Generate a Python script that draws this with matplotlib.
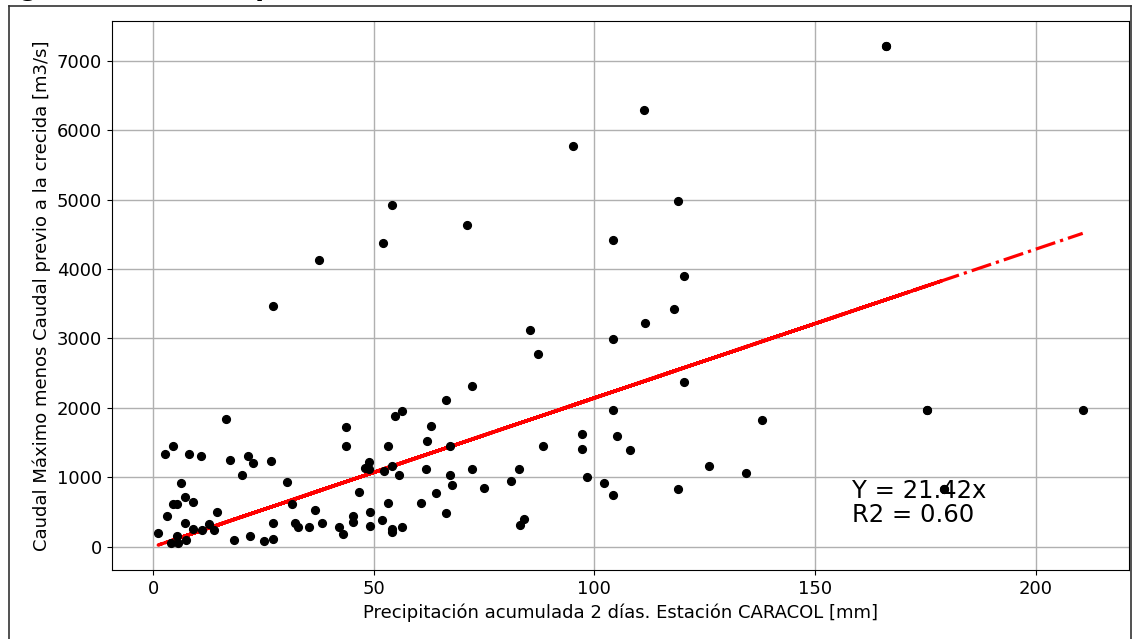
import numpy as np
import matplotlib
matplotlib.use('Agg')
from matplotlib import pyplot as plt
from matplotlib.lines import Line2D

# precipitacion acumulada 2 dias [mm] vs incremento de caudal [m3/s]
precip = [54.0, 37.5, 52.1, 71.2, 27.2, 111.2, 95.1, 118.9, 104.1, 120.2, 118.0,
          85.3, 87.3, 111.5, 104.1, 120.3, 104.1, 138.1, 97.1, 105.1, 88.3, 97.1, 108.0,
          82.8, 126.0, 134.4, 81.2, 98.3, 102.2, 75.0, 118.9, 104.1, 84.0, 83.1,
          72.2, 66.3, 16.4, 56.3, 54.7, 43.7, 63.0, 43.7, 53.1, 62.1, 67.2, 4.35,
          2.7, 8.1, 10.8, 21.5, 17.3, 22.7, 26.6, 20.1, 48.8, 48.1, 48.9, 52.2,
          54.1, 55.6, 61.9, 67.2, 72.2, 67.7, 64.0, 60.6, 66.3, 46.6, 30.2, 31.4,
          36.6, 32.1, 32.8, 35.3, 38.3, 42.0, 43.1, 45.3, 45.3, 49.2, 49.2, 51.8,
          53.1, 54.1, 54.1, 56.3, 27.2, 27.2, 25.2, 22.0, 18.2, 14.5, 13.7, 12.7,
          166.2, 11.1, 9.1, 175.4, 9.0, 7.2, 179.2, 7.1, 6.2, 166.2, 4.35, 5.4,
          175.4, 3.0, 1.1, 179.2, 5.3, 3.9, 5.7, 7.5, 210.7]
caudal = [4927, 4127, 4372, 4637, 3468, 6287, 5768, 4978, 4411, 3901, 3430,
          3117, 2771, 3222, 2991, 2376, 1967, 1823, 1616, 1592, 1448, 1410, 1390,
          1121, 1164, 1058, 952, 1000, 914, 851, 832, 750, 404, 317,
          2313, 2112, 1842, 1948, 1886, 1717, 1741, 1448, 1448, 1515, 1448, 1448,
          1328, 1328, 1308, 1308, 1246, 1207, 1227, 1039, 1222, 1126, 1121, 1097,
          1164, 1039, 1121, 1039, 1121, 895, 769, 630, 486, 794, 938, 611,
          524, 342, 279, 279, 342, 279, 178, 447, 361, 505, 298, 385,
          630, 255, 216, 279, 342, 115, 77, 154, 96, 505, 235, 327,
          7211, 235, 649, 1967, 250, 342, 832, 711, 914, 7211, 611, 611,
          1967, 442, 202, 832, 159, 53, 53, 96, 1967]

pendiente = 21.42
r2 = 0.60

x = np.array(precip)
y = np.array(caudal)

fig = plt.figure(figsize=(11.32, 6.39), dpi=100)
ax = fig.add_axes([0.0989, 0.108, 0.8984, 0.859])

ax.plot(x, y, 'ko', ms=5.6, zorder=3)
ax.plot(x, pendiente * x, 'r-.', lw=2.3, zorder=2)
ax.grid(True, color='#b0b0b0', lw=1.0)
ax.set_axisbelow(True)

ax.set_xticks([0, 50, 100, 150, 200])
ax.set_yticks(range(0, 8000, 1000))
ax.tick_params(labelsize=13)
ax.set_xlabel('Precipitación acumulada 2 días. Estación CARACOL [mm]', fontsize=13)
ax.set_ylabel('Caudal Máximo menos Caudal previo a la crecida [m3/s]', fontsize=13)

ax.text(158.3, 290, 'Y = %.2fx\nR2 = %.2f' % (pendiente, r2), fontsize=17.5,
        linespacing=1.0, va='bottom', ha='left')

# marco del documento y titulo cortado arriba
for xs, ys in [([9, 9], [6, 639]), ([9, 1131], [6, 6]), ([1131, 1131], [6, 639])]:
    fig.add_artist(Line2D(np.array(xs) / 1132, 1 - np.array(ys) / 639,
                          color='#333333', lw=1.2, transform=fig.transFigure))
fig.text(-12 / 1132, 1 + 6 / 639, 'Figura 4.11. Comparación entre caudal máximo de crecida',
         fontsize=24, fontweight='bold', family='Liberation Sans', va='baseline', ha='left')

fig.savefig('out.png', dpi=100)
